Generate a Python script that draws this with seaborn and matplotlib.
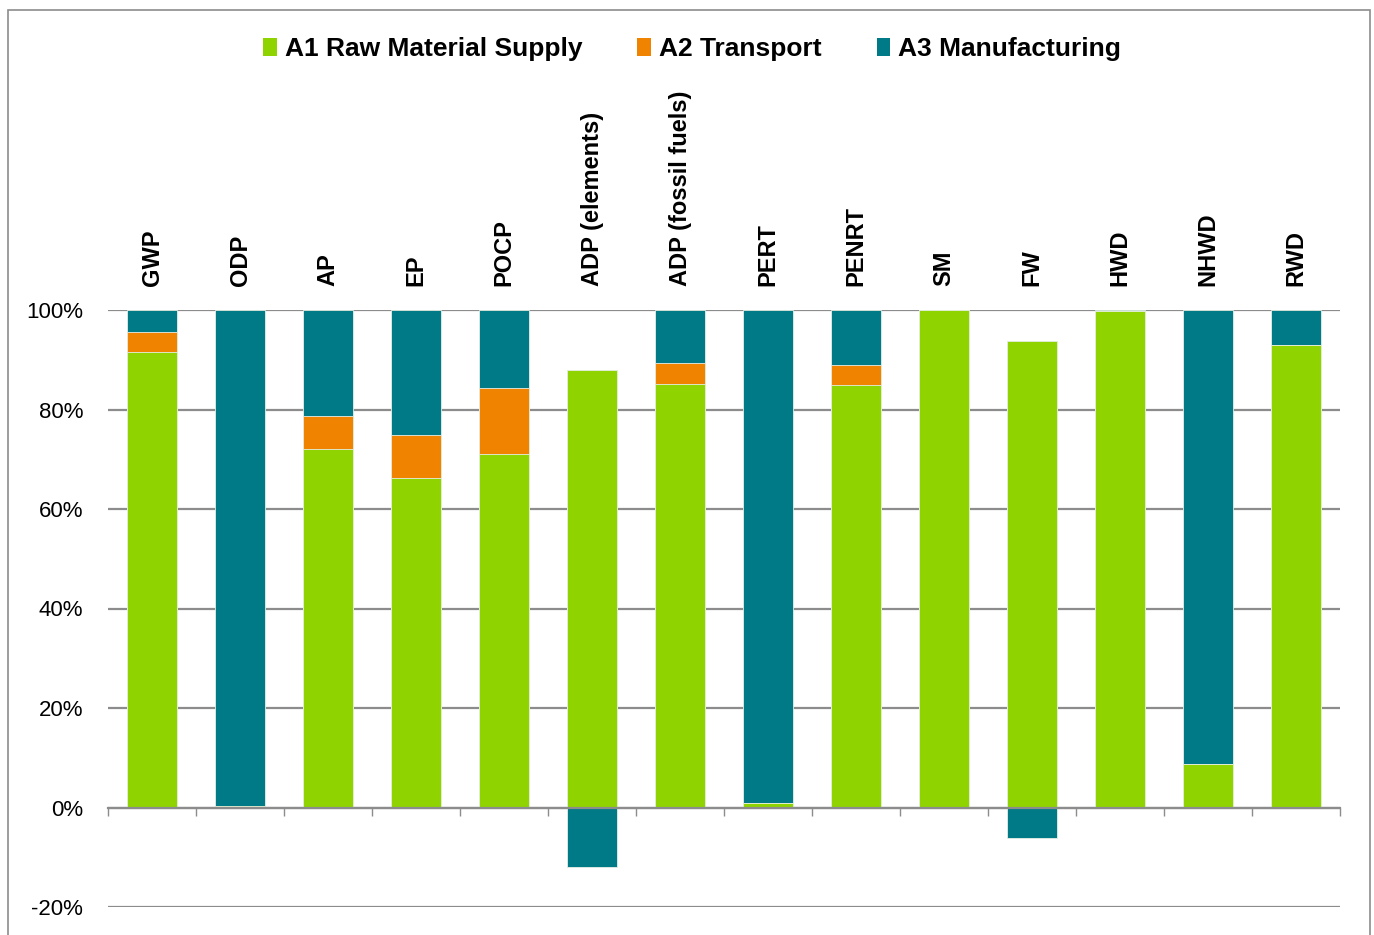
import numpy as np
import pandas as pd
import matplotlib
matplotlib.use("Agg")
import matplotlib.pyplot as plt
from matplotlib.patches import Patch, Rectangle
from matplotlib.ticker import FuncFormatter
import seaborn as sns

# values in percent
categories = ['GWP', 'ODP', 'AP', 'EP', 'POCP', 'ADP (elements)', 'ADP (fossil fuels)',
              'PERT', 'PENRT', 'SM', 'FW', 'HWD', 'NHWD', 'RWD']
a1_raw = [91.5, 0.3, 72.1, 66.3, 71.1, 87.9, 85.1, 1.0, 84.9, 100.0, 93.8, 99.8, 8.8, 93.0]
a2_transport = [4.0, 0.0, 6.6, 8.5, 13.2, 0.0, 4.3, 0.0, 4.1, 0.0, 0.0, 0.0, 0.0, 0.0]
a3_manufacturing = [4.5, 99.7, 21.3, 25.2, 15.7, -12.0, 10.6, 99.0, 11.0, 0.0, -6.2, 0.2, 91.2, 7.0]

series_names = ['A1 Raw Material Supply', 'A2 Transport', 'A3 Manufacturing']
colors = ['#8FD400', '#F08300', '#007A87']
ytick_vals = [-20, 0, 20, 40, 60, 80, 100]

sns.set_style('white')
plt.rcParams['font.family'] = ['Liberation Sans', 'DejaVu Sans']
plt.rcParams['text.color'] = 'black'

a1 = np.array(a1_raw)
a2 = np.array(a2_transport)
a3 = np.array(a3_manufacturing)
# overlapping-bars trick for stacking: draw tallest layer first
df = pd.DataFrame({
    'category': categories,
    'top3': np.where(a3 > 0, a1 + a2 + a3, a3),
    'top2': a1 + a2,
    'top1': a1,
})

fig = plt.figure(figsize=(13.74, 9.35), dpi=100)
ax = fig.add_axes([108 / 1374, (935 - 907) / 935, 1232 / 1374, 597 / 935])

bar_w = 0.57
for col, c in zip(['top3', 'top2', 'top1'], colors[::-1]):
    sns.barplot(data=df, x='category', y=col, color=c, width=bar_w,
                saturation=1, ax=ax, zorder=2, edgecolor='#e6f0e6', linewidth=0.6)

ax.set_ylim(-20, 100)
ax.set_xlim(-0.5, len(categories) - 0.5)
ax.set_yticks(ytick_vals)
ax.yaxis.set_major_formatter(FuncFormatter(lambda v, p: f'{v:.0f}%'))
ax.grid(axis='y', color='#8c8c8c', linewidth=1.6)
ax.grid(axis='x', visible=False)
ax.set_axisbelow(True)
ax.set_xlabel('')
ax.set_ylabel('')

for s in ['left', 'right', 'top']:
    ax.spines[s].set_visible(False)
ax.spines['bottom'].set_position(('data', 0))
ax.spines['bottom'].set_color('#8c8c8c')
ax.spines['bottom'].set_linewidth(1.6)
ax.spines['bottom'].set_zorder(3)

ax.tick_params(axis='y', length=0, labelsize=16, pad=18, labelcolor='black')
ax.tick_params(axis='x', which='major', length=0, labeltop=True, labelbottom=False,
               top=False, bottom=False, pad=17, labelsize=17, labelcolor='black')
ax.set_xticks(np.arange(-0.5, len(categories), 1), minor=True)
ax.tick_params(axis='x', which='minor', bottom=True, top=False, direction='out',
               length=6, width=1, color='#8c8c8c')
for lbl in ax.get_xticklabels():
    lbl.set_rotation(90)
    lbl.set_fontweight('bold')
    lbl.set_va('bottom')
    lbl.set_ha('center')

handles = [Patch(facecolor=c, edgecolor='none') for c in colors]
leg = fig.legend(handles, series_names, loc='center', bbox_to_anchor=(692 / 1374, 1 - 49 / 935),
                 ncol=3, frameon=False, handlelength=0.5, handleheight=0.7,
                 handletextpad=0.3, columnspacing=2.1,
                 prop={'weight': 'bold', 'size': 19})
for t in leg.get_texts():
    t.set_color('black')

fig.patches.append(Rectangle((8 / 1374, -0.05), 1362 / 1374, 1.05 - 10 / 935,
                             transform=fig.transFigure, fill=False,
                             edgecolor='#8c8c8c', linewidth=1.2))

fig.savefig('out.png', dpi=100)
